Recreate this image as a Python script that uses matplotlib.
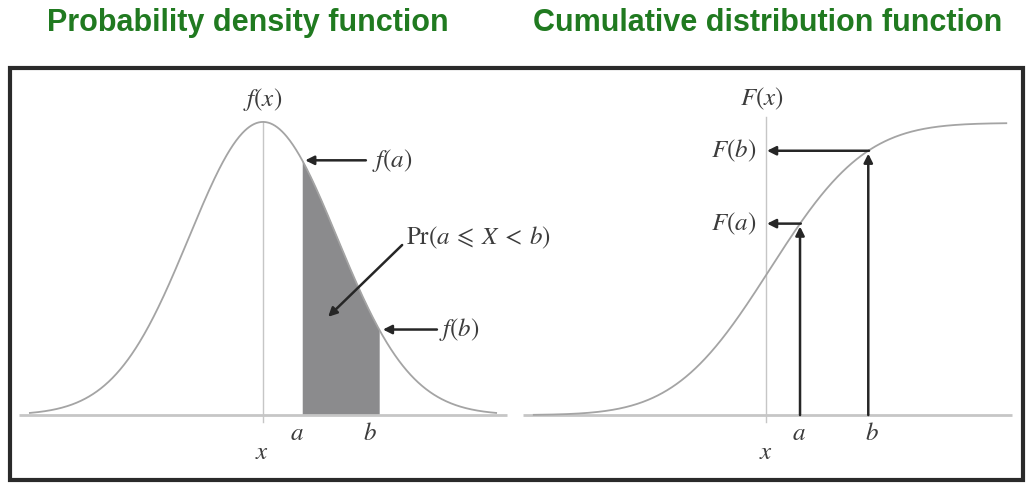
import numpy as np
import matplotlib
matplotlib.use("Agg")
import matplotlib.pyplot as plt
from matplotlib.patches import Rectangle

plt.rcParams["mathtext.fontset"] = "stix"

# ---- diagram parameters (in standard-deviation units) ----
x_span = 3.15                  # curves run from -x_span to +x_span
pdf_a, pdf_b = 0.53, 1.57      # integration limits on the density panel
cdf_mean = 0.0
cdf_axis = -0.05               # position of the F(x) axis
cdf_a, cdf_b = 0.40, 1.31      # points marked on the distribution panel

titles = ["Probability density function", "Cumulative distribution function"]

title_color = "#207a20"
curve_color = "#a4a4a4"
axis_color = "#c6c6c6"
shade_color = "#8b8b8d"
ink = "#3c3c3c"
arrow_color = "#262626"

W, H, DPI = 1026, 484, 100
fig = plt.figure(figsize=(W / DPI, H / DPI), dpi=DPI)
fig.patch.set_facecolor("white")


def pdf(z):
    return np.exp(-0.5 * np.asarray(z) ** 2)          # normalised to peak 1


def cdf(z):
    z = np.asarray(z, dtype=float)
    # Abramowitz-Stegun style erf approximation
    t = 1.0 / (1.0 + 0.3275911 * np.abs(z) / np.sqrt(2))
    poly = t * (0.254829592 + t * (-0.284496736 + t * (1.421413741
           + t * (-1.453152027 + t * 1.061405429))))
    erf = 1 - poly * np.exp(-(z ** 2) / 2)
    return 0.5 * (1 + np.sign(z) * erf)


# ---- left panel: density ----
ax1 = fig.add_axes([0, 0, 513 / W, 1])
ax1.set_xlim(-3.554, 3.378)
ax1.set_ylim(-0.2355, 1.416)
ax1.axis("off")

z = np.linspace(-x_span, x_span, 600)
ax1.plot([-3.30, 3.30], [0, 0], color=axis_color, lw=2.0, solid_capstyle="butt")
ax1.plot([0, 0], [-0.025, 1.0], color=axis_color, lw=1.0)
zs = np.linspace(pdf_a, pdf_b, 200)
ax1.fill_between(zs, 0, pdf(zs), color=shade_color, lw=0)
ax1.plot(z, pdf(z), color=curve_color, lw=1.3)

fs = 18
ax1.text(0, 1.075, r"$f(x)$", ha="center", va="center", fontsize=fs, color=ink)
ax1.text(-0.02, -0.125, r"$x$", ha="center", va="center", fontsize=fs, color=ink)
ax1.text(pdf_a - 0.07, -0.062, r"$a$", ha="center", va="center", fontsize=fs, color=ink)
ax1.text(pdf_b - 0.12, -0.062, r"$b$", ha="center", va="center", fontsize=fs, color=ink)

arrow_kw = dict(arrowstyle="-|>", color=arrow_color, lw=1.8,
                mutation_scale=13, shrinkA=0, shrinkB=0)
fa, fb = float(pdf(pdf_a)), float(pdf(pdf_b))
ax1.annotate("", xy=(pdf_a + 0.04, fa), xytext=(1.39, fa), arrowprops=arrow_kw)
ax1.text(1.47, fa, r"$f(a)$", ha="left", va="center", fontsize=fs, color=ink)
ax1.annotate("", xy=(pdf_b + 0.05, fb), xytext=(2.35, fb), arrowprops=arrow_kw)
ax1.text(2.38, fb, r"$f(b)$", ha="left", va="center", fontsize=fs, color=ink)
ax1.annotate("", xy=(0.88, 0.335), xytext=(1.88, 0.58), arrowprops=arrow_kw)
ax1.text(1.93, 0.605, r"$\mathrm{Pr}(a\:\leqslant\:X\:<\:b)$", ha="left", va="center",
         fontsize=fs, color=ink)

# ---- right panel: cumulative distribution ----
ax2 = fig.add_axes([513 / W, 0, 513 / W, 1])
ax2.set_xlim(-3.427, 3.413)
ax2.set_ylim(-0.236, 1.421)
ax2.axis("off")

ax2.plot([-3.30, 3.23], [0, 0], color=axis_color, lw=2.0, solid_capstyle="butt")
ax2.plot([cdf_axis, cdf_axis], [-0.025, 1.02], color=axis_color, lw=1.0)
ax2.plot(z + cdf_mean, cdf(z), color=curve_color, lw=1.3)

Fa, Fb = float(cdf(cdf_a - cdf_mean)), float(cdf(cdf_b - cdf_mean))
for xv, Fv in [(cdf_a, Fa), (cdf_b, Fb)]:
    ax2.annotate("", xy=(xv, Fv - 0.01), xytext=(xv, 0), arrowprops=arrow_kw)
    ax2.annotate("", xy=(cdf_axis + 0.01, Fv), xytext=(xv + 0.01, Fv),
                 arrowprops=arrow_kw)

ax2.text(cdf_axis - 0.06, 1.083, r"$F(x)$", ha="center", va="center", fontsize=fs, color=ink)
ax2.text(cdf_axis - 0.14, Fb, r"$F(b)$", ha="right", va="center", fontsize=fs, color=ink)
ax2.text(cdf_axis - 0.14, Fa, r"$F(a)$", ha="right", va="center", fontsize=fs, color=ink)
ax2.text(cdf_axis, -0.125, r"$x$", ha="center", va="center", fontsize=fs, color=ink)
ax2.text(cdf_a - 0.01, -0.062, r"$a$", ha="center", va="center", fontsize=fs, color=ink)
ax2.text(cdf_b + 0.05, -0.062, r"$b$", ha="center", va="center", fontsize=fs, color=ink)

# ---- titles and surrounding frame ----
for xc, t in zip([248 / W, 768 / W], titles):
    fig.text(xc, 1 - 23 / H, t, ha="center", va="center", fontsize=22,
             fontweight="bold", family="Liberation Sans", color=title_color)

fig.patches.append(Rectangle((10 / W, 4 / H), 1013 / W, 412 / H,
                             transform=fig.transFigure, fill=False,
                             edgecolor="#2a2a2a", lw=3.0))

fig.savefig("out.png", dpi=DPI, facecolor="white")
